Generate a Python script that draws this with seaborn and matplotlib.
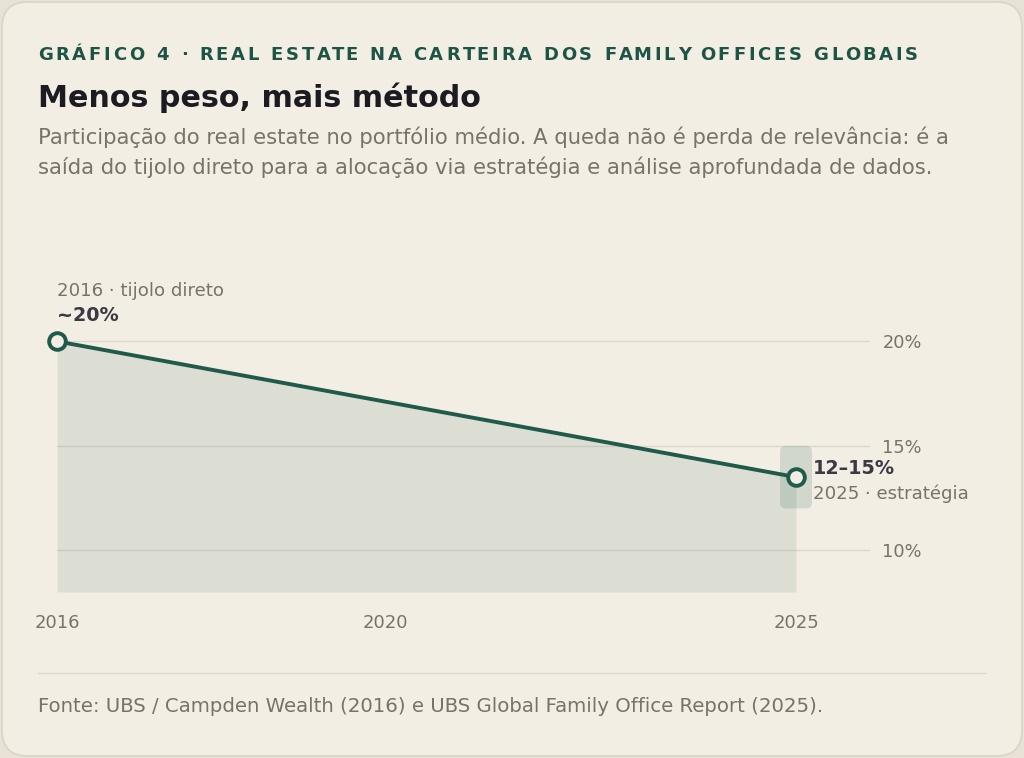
import matplotlib
matplotlib.use("Agg")
import matplotlib.pyplot as plt
import seaborn as sns
import pandas as pd
from matplotlib.patches import FancyBboxPatch
from matplotlib.lines import Line2D

# Data
years = [2016, 2025]
share = [20, 13.5]
band_2025 = [12, 15]
y_ticks = [10, 15, 20]
x_ticks = [2016, 2020, 2025]

df = pd.DataFrame({"ano": years, "participacao": share})

BG = "#F2EEE4"
OUTER = "#E8E3D6"
GREEN = "#1F5A4B"
GRID = "#DDD8CC"
GRAY = "#77736A"
DARK = "#3D3844"

sns.set_theme(style="white")
plt.rcParams["font.family"] = ["DejaVu Sans"]

fig = plt.figure(figsize=(10.24, 7.58), dpi=100)
fig.patch.set_facecolor(OUTER)

W, H = 1024, 758
def fx(px):
    return px / W
def fy(py):
    return 1 - py / H

# card
card = FancyBboxPatch((fx(2), fy(756)), fx(1020), 754 / H,
                      boxstyle="round,pad=0,rounding_size=0.025",
                      mutation_aspect=W / H,
                      transform=fig.transFigure, facecolor=BG,
                      edgecolor="#D9D4C6", linewidth=1.2, zorder=-5)
fig.patches.append(card)

# kicker with letter spacing
kicker = "GRÁFICO 4 · REAL ESTATE NA CARTEIRA DOS FAMILY OFFICES GLOBAIS"
renderer = fig.canvas.get_renderer()
kprops = dict(fontsize=13, fontweight="bold", color="#1E5446")

def text_w(s):
    t = fig.text(0, 0, s + "X", **kprops)
    w = t.get_window_extent(renderer).width
    t.remove()
    return w

wx = text_w("")
widths = [text_w(kicker[:i]) - wx for i in range(len(kicker) + 1)]
target = 918 - 38
spacing = (target - widths[-1]) / (len(kicker) - 1)
for i, ch in enumerate(kicker):
    fig.text(fx(38 + widths[i] + i * spacing), fy(55), ch, va="center", ha="left", **kprops)

fig.text(fx(38), fy(98), "Menos peso, mais método", fontsize=21.7, fontweight="bold",
         color="#1C1B22", va="center", ha="left")
fig.text(fx(38), fy(137), "Participação do real estate no portfólio médio. A queda não é perda de relevância: é a",
         fontsize=15.2, color=GRAY, va="center", ha="left")
fig.text(fx(38), fy(167), "saída do tijolo direto para a alocação via estratégia e análise aprofundada de dados.",
         fontsize=15.2, color=GRAY, va="center", ha="left")

# axes
left_px, right_px, top_px, bottom_px = 57, 870, 310, 592
ax = fig.add_axes([fx(left_px), fy(bottom_px), fx(right_px - left_px), (bottom_px - top_px) / H])
ax.set_facecolor("none")
ymin, ymax = 8, 21.5
xmin = 2016
xmax = 2016 + (right_px - left_px) / ((796 - 57) / 9)
ax.set_xlim(xmin, xmax)
ax.set_ylim(ymin, ymax)

for v in y_ticks:
    ax.axhline(v, color=GRID, lw=1, zorder=1)

ax.fill_between(df["ano"], df["participacao"], ymin, color=GREEN, alpha=0.1, lw=0, zorder=2)

# band around 2025
px_per_x = (796 - 57) / 9
px_per_y = (550 - 341) / 10
band = FancyBboxPatch((years[-1] - 16 / px_per_x, band_2025[0]), 32 / px_per_x,
                      band_2025[1] - band_2025[0],
                      boxstyle="round,pad=0,rounding_size=%f" % (6 / px_per_x),
                      mutation_aspect=px_per_x / px_per_y,
                      facecolor=GREEN, alpha=0.15, lw=0, zorder=3)
ax.add_patch(band)

sns.lineplot(data=df, x="ano", y="participacao", ax=ax, color=GREEN, lw=2.8, zorder=4)
ax.plot(df["ano"], df["participacao"], ls="none", marker="o", ms=12, mfc=BG,
        mec=GREEN, mew=2.8, zorder=5, clip_on=False)

ax.set_xlabel("")
ax.set_ylabel("")
ax.set_xticks(x_ticks)
ax.set_xticklabels([str(x) for x in x_ticks])
ax.set_yticks(y_ticks)
ax.set_yticklabels([f"{v}%" for v in y_ticks])
ax.yaxis.tick_right()
ax.tick_params(axis="y", length=0, pad=9, labelsize=12.8, labelcolor=GRAY)
ax.tick_params(axis="x", length=0, pad=15.5, labelsize=13, labelcolor=GRAY)
for s in ax.spines.values():
    s.set_visible(False)
ax.grid(False)

# annotations
ax.annotate("2016 · tijolo direto", xy=(years[0], share[0]), xytext=(0, 50),
            textcoords="offset pixels", ha="left", va="center", fontsize=13.1, color=GRAY)
ax.annotate("~20%", xy=(years[0], share[0]), xytext=(0, 26),
            textcoords="offset pixels", ha="left", va="center", fontsize=13.8,
            fontweight="bold", color=DARK)
ax.annotate("12–15%", xy=(years[-1], share[-1]), xytext=(17, 9),
            textcoords="offset pixels", ha="left", va="center", fontsize=13.8,
            fontweight="bold", color=DARK, annotation_clip=False)
ax.annotate("2025 · estratégia", xy=(years[-1], share[-1]), xytext=(17, -17),
            textcoords="offset pixels", ha="left", va="center", fontsize=13.1,
            color=GRAY, annotation_clip=False)

# footer
fig.add_artist(Line2D([fx(38), fx(986)], [fy(673), fy(673)], color=GRID, lw=1,
                      transform=fig.transFigure))
fig.text(fx(38), fy(707), "Fonte: UBS / Campden Wealth (2016) e UBS Global Family Office Report (2025).",
         fontsize=14.2, color=GRAY, va="center", ha="left")

fig.savefig("out.png", dpi=100, facecolor=fig.get_facecolor())
